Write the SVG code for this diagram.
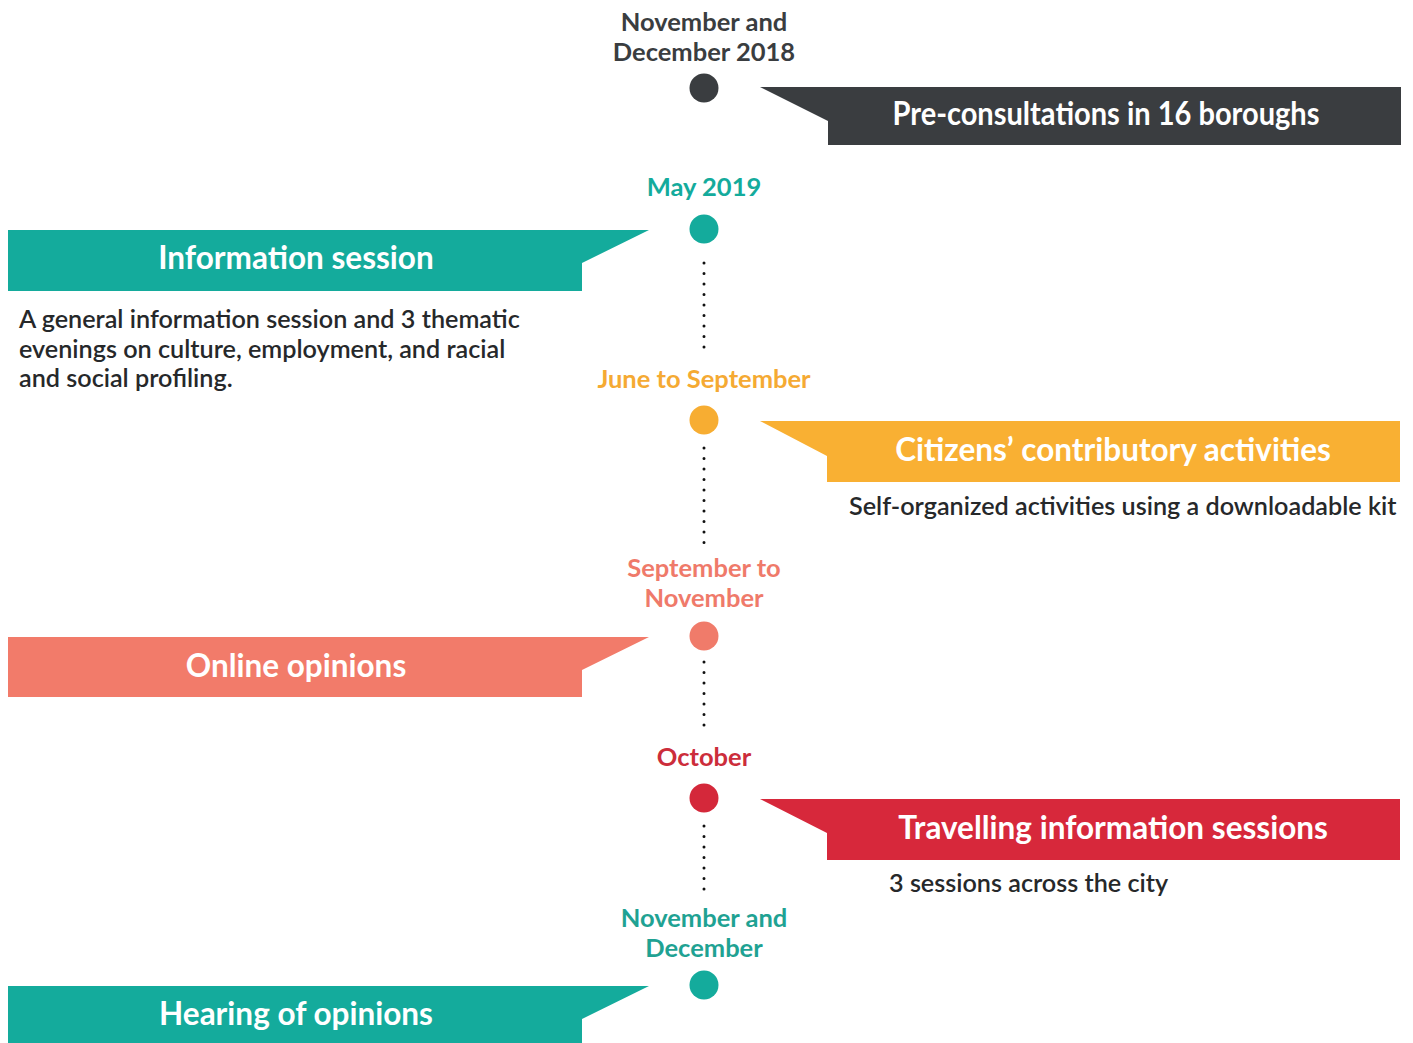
<svg xmlns="http://www.w3.org/2000/svg" width="1413" height="1043" viewBox="0 0 1413 1043">
<style>
.date{font-family:Lato,"Liberation Sans",sans-serif;font-weight:bold;font-size:25.5px;text-anchor:middle}
.ban{font-family:Lato,"Liberation Sans",sans-serif;font-weight:bold;font-size:31.5px;fill:#fff;text-anchor:middle}
.body{font-family:Lato,"Liberation Sans",sans-serif;font-weight:600;font-size:25.2px;fill:#26282a}
.dots{stroke:#111;stroke-width:3;stroke-linecap:round;stroke-dasharray:0 10.5;fill:none}
</style>
<rect width="1413" height="1043" fill="#fff"/>
<g id="connectors">
<line class="dots" x1="704" y1="263" x2="704" y2="357"/>
<line class="dots" x1="704" y1="448" x2="704" y2="545"/>
<line class="dots" x1="704" y1="662" x2="704" y2="735"/>
<line class="dots" x1="704" y1="826" x2="704" y2="895"/>
</g>
<g id="n1">
<text class="date" fill="#3a3d40" x="704" y="31">November and</text>
<text class="date" fill="#3a3d40" x="704" y="61">December 2018</text>
<circle cx="704" cy="88" r="14.5" fill="#3a3d40"/>
<polygon points="760,87 1401,87 1401,145 828,145 828,121" fill="#3a3d40"/>
<text class="ban" x="1106" y="125" textLength="427" lengthAdjust="spacingAndGlyphs">Pre-consultations in 16 boroughs</text>
</g>
<g id="n2">
<text class="date" fill="#14ab9c" x="704" y="196">May 2019</text>
<circle cx="704" cy="229" r="14.5" fill="#14ab9c"/>
<polygon points="8,230 649,230 582,263 582,291 8,291" fill="#14ab9c"/>
<text class="ban" x="296" y="269">Information session</text>
<text class="body" x="19" y="328">A general information session and 3 thematic</text>
<text class="body" x="19" y="358">evenings on culture, employment, and racial</text>
<text class="body" x="19" y="387">and social profiling.</text>
</g>
<g id="n3">
<text class="date" fill="#f5aa33" x="704" y="388">June to September</text>
<circle cx="704" cy="420" r="14.5" fill="#f7ad32"/>
<polygon points="760,421 1400,421 1400,482 827,482 827,456" fill="#f9b033"/>
<text class="ban" x="1113" y="461">Citizens’ contributory activities</text>
<text class="body" x="849" y="515">Self-organized activities using a downloadable kit</text>
</g>
<g id="n4">
<text class="date" fill="#ef7a6a" x="704" y="577">September to</text>
<text class="date" fill="#ef7a6a" x="704" y="607">November</text>
<circle cx="704" cy="636" r="14.5" fill="#f07b6a"/>
<polygon points="8,637 649,637 582,670 582,697 8,697" fill="#f27b6a"/>
<text class="ban" x="296" y="677">Online opinions</text>
</g>
<g id="n5">
<text class="date" fill="#cc2d3b" x="704" y="766">October</text>
<circle cx="704" cy="798" r="14.5" fill="#d4283a"/>
<polygon points="760,799 1400,799 1400,860 827,860 827,833" fill="#d7283b"/>
<text class="ban" x="1113" y="839">Travelling information sessions</text>
<text class="body" x="889" y="892">3 sessions across the city</text>
</g>
<g id="n6">
<text class="date" fill="#1fa293" x="704" y="927">November and</text>
<text class="date" fill="#1fa293" x="704" y="957">December</text>
<circle cx="704" cy="985" r="14.5" fill="#14ab9c"/>
<polygon points="8,986 649,986 582,1019 582,1043 8,1043" fill="#14ab9c"/>
<text class="ban" x="296" y="1025">Hearing of opinions</text>
</g>
</svg>
